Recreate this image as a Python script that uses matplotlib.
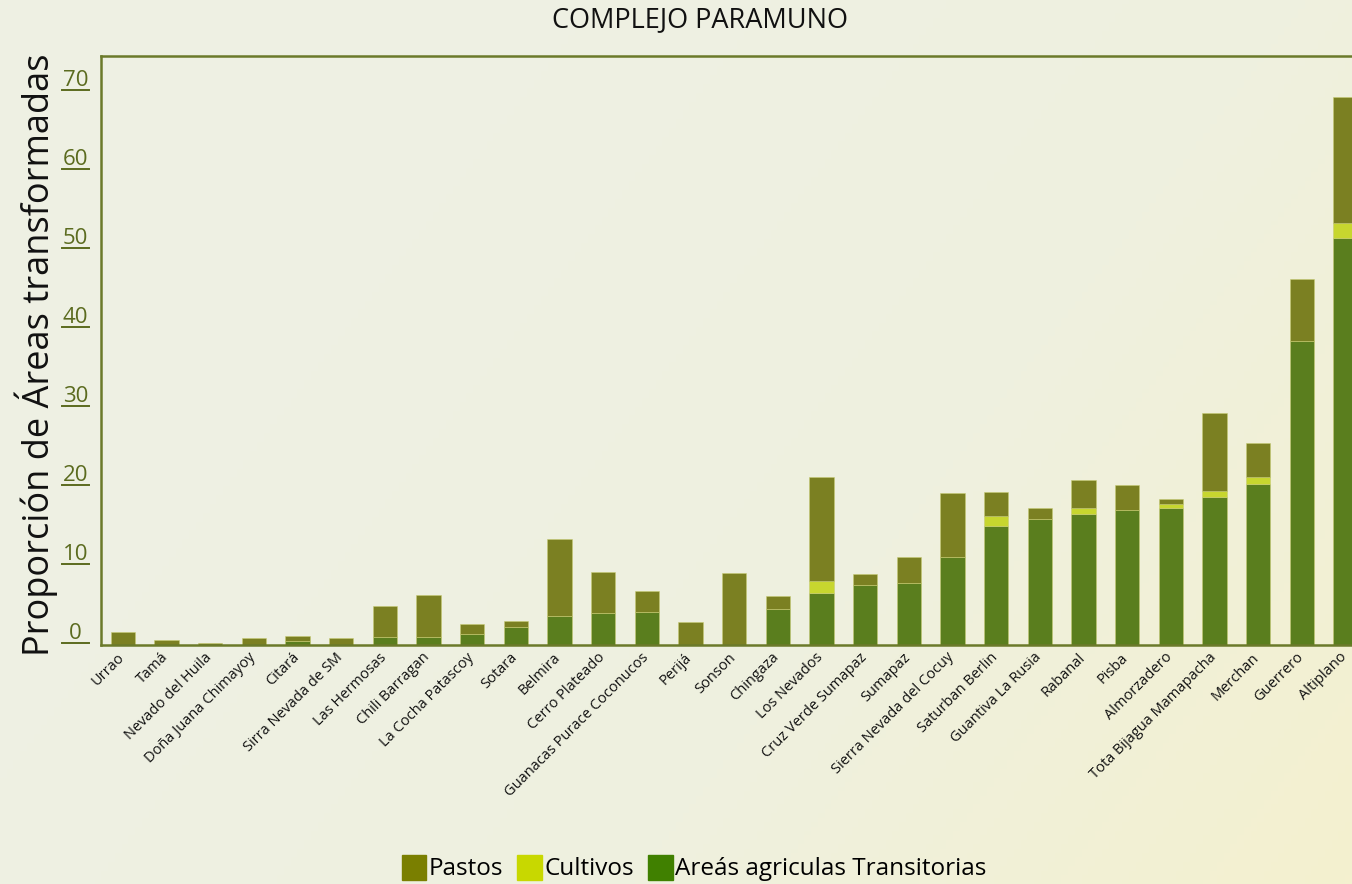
import matplotlib
matplotlib.use("Agg")
import matplotlib.pyplot as plt
import numpy as np
from matplotlib.patches import Patch
from matplotlib.colors import LinearSegmentedColormap
import matplotlib.transforms as mtrans

categories = ["Urrao", "Tamá", "Nevado del Huila", "Doña Juana Chimayoy", "Citará",
              "Sirra Nevada de SM", "Las Hermosas", "Chili Barragan", "La Cocha Patascoy",
              "Sotara", "Belmira", "Cerro Plateado", "Guanacas Purace Coconucos", "Perijá",
              "Sonson", "Chingaza", "Los Nevados", "Cruz Verde Sumapaz", "Sumapaz",
              "Sierra Nevada del Cocuy", "Saturban Berlin", "Guantiva La Rusia", "Rabanal",
              "Pisba", "Almorzadero", "Tota Bijagua Mamapacha", "Merchan", "Guerrero",
              "Altiplano"]

transitorias = [0.0, 0.0, 0.0, 0.0, 0.5, 0.0, 1.0, 1.0, 1.4, 2.3, 3.7, 4.0, 4.2, 0.0,
                0.0, 4.5, 6.6, 7.6, 7.8, 11.2, 15.1, 15.9, 16.6, 17.1, 17.4, 18.8,
                20.4, 38.5, 51.6]
cultivos = [0.0, 0.0, 0.0, 0.0, 0.0, 0.0, 0.0, 0.0, 0.0, 0.0, 0.0, 0.0, 0.0, 0.0,
            0.0, 0.0, 1.5, 0.0, 0.0, 0.0, 1.3, 0.0, 0.8, 0.0, 0.4, 0.7,
            0.9, 0.0, 1.9]
pastos = [1.6, 0.6, 0.3, 0.9, 0.6, 0.9, 4.0, 5.3, 1.2, 0.8, 9.7, 5.3, 2.6, 2.9,
          9.1, 1.7, 13.2, 1.4, 3.3, 8.1, 3.0, 1.4, 3.5, 3.2, 0.7, 9.9,
          4.3, 7.9, 15.9]

yticks = [0, 10, 20, 30, 40, 50, 60, 70]

c_past = "#7b8022"
c_cult = "#c7d62f"
c_tran = "#5a7e1e"
leg_past = "#7a7f00"
leg_cult = "#c8d800"
leg_tran = "#408000"
frame_col = "#6b7a2a"
tick_col = "#5b6b1f"
FONT = "Open Sans"

W, H = 1352, 884
fig = plt.figure(figsize=(W / 100, H / 100), dpi=100)

# background gradient
bg = fig.add_axes([0, 0, 1, 1], zorder=-10)
bg.set_axis_off()
xx, yy = np.meshgrid(np.linspace(0, 1, 200), np.linspace(0, 1, 200))
t = np.clip(0.8 * xx + 0.4 * yy - 0.35, 0, 1)
cmap = LinearSegmentedColormap.from_list("bgc", ["#eef0e3", "#eff0df", "#f4f0cf"])
bg.imshow(t, cmap=cmap, aspect="auto", extent=[0, 1, 0, 1], origin="upper")

left_px, right_px, bot_px, top_px = 101, 1352, 645, 56
ax = fig.add_axes([left_px / W, 1 - bot_px / H, (right_px - left_px) / W, (bot_px - top_px) / H])
ax.set_facecolor("none")

x = np.arange(len(categories))
tran = np.array(transitorias)
cult = np.array(cultivos)
past = np.array(pastos)
bw = 0.56
kw = dict(width=bw, edgecolor=(0.78, 0.80, 0.45, 0.55), linewidth=0.7)
ax.bar(x, tran, color=c_tran, **kw)
ax.bar(x, cult, bottom=tran, color=c_cult, **kw)
ax.bar(x, past, bottom=tran + cult, color=c_past, **kw)

ax.set_xlim(-0.5, 28.15)
ax.set_ylim(0, 74.6)

for s in ["left", "top", "bottom"]:
    ax.spines[s].set_color(frame_col)
    ax.spines[s].set_linewidth(1.8)
ax.spines["right"].set_visible(False)

ax.set_xticks(x)
ax.set_xticklabels(categories, rotation=45, ha="right", va="top",
                   rotation_mode="anchor", fontsize=10.5, color="#111111",
                   family=FONT)
ax.tick_params(axis="x", length=0, pad=5)
ax.set_yticks([])
offset = mtrans.ScaledTranslation(-6 / 100, 2 / 100, fig.dpi_scale_trans)
for lab in ax.get_xticklabels():
    lab.set_transform(lab.get_transform() + offset)

# underlined y tick labels
trans = mtrans.blended_transform_factory(fig.transFigure, ax.transData)
for v in yticks:
    ax.text(75.5 / W, v + 0.15, str(v), transform=trans, ha="center", va="bottom",
            fontsize=16, color=tick_col, family=FONT)
    ax.plot([62 / W, 89 / W], [v + 0.25, v + 0.25], transform=trans, color=tick_col,
            lw=1.4, clip_on=False)

fig.text(36 / W, 1 - 355 / H, "Proporción de Áreas transformadas", rotation=90,
         ha="center", va="center", fontsize=26, color="#111111", family=FONT)
fig.text(700 / W, 1 - 20 / H, "COMPLEJO PARAMUNO", ha="center", va="center",
         fontsize=19.5, color="#111111", family=FONT)

handles = [Patch(color=leg_past, label="Pastos"),
           Patch(color=leg_cult, label="Cultivos"),
           Patch(color=leg_tran, label="Areás agriculas Transitorias")]
fig.legend(handles=handles, loc="center", bbox_to_anchor=(694 / W, 1 - 868 / H),
           ncol=3, frameon=False, handlelength=1.0, handleheight=1.2,
           handletextpad=0.1, columnspacing=0.6, prop={"family": FONT, "size": 17.5})

fig.savefig("out.png", dpi=100)
